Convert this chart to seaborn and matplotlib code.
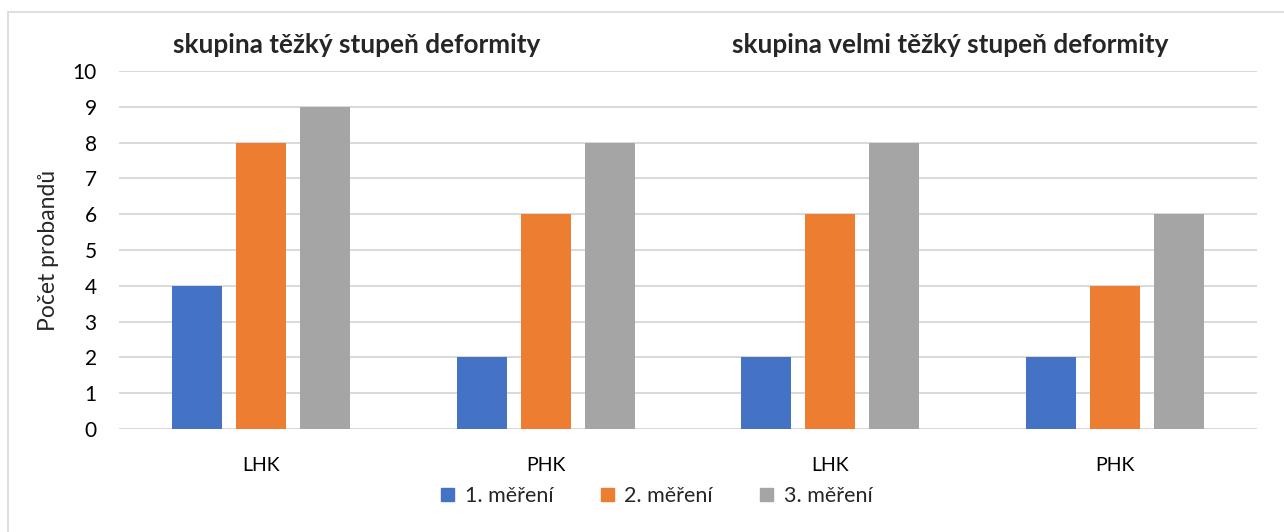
import matplotlib
matplotlib.use("Agg")
import matplotlib.pyplot as plt
import seaborn as sns
import pandas as pd
from matplotlib.patches import Rectangle

# ---- data ----
skupiny = ["skupina těžký stupeň deformity", "skupina velmi těžký stupeň deformity"]
kategorie = ["LHK", "PHK", "LHK", "PHK"]
serie = ["1. měření", "2. měření", "3. měření"]
mereni_1 = [4, 2, 2, 2]
mereni_2 = [8, 6, 6, 4]
mereni_3 = [9, 8, 8, 6]
barvy = ["#4472C4", "#ED7D31", "#A5A5A5"]
y_label = "Počet probandů"

rows = []
for s, vals in zip(serie, [mereni_1, mereni_2, mereni_3]):
    for i, v in enumerate(vals):
        rows.append({"pos": str(i), "serie": s, "hodnota": v})
df = pd.DataFrame(rows)

sns.set_theme(style="white")
plt.rcParams["font.family"] = ["Lato", "DejaVu Sans"]

fig = plt.figure(figsize=(12.84, 5.32), dpi=100)
ax = fig.add_axes([119 / 1284, 1 - 429 / 532, (1257 - 119) / 1284, (429 - 71) / 532])

sns.barplot(data=df, x="pos", y="hodnota", hue="serie", palette=barvy,
            width=0.675, gap=0.22, ax=ax, legend=False, saturation=1,
            edgecolor="none")

ax.set_ylim(0, 10)
ax.set_xlim(-0.5, 3.5)
ax.set_yticks(range(0, 11))
ax.yaxis.grid(True, color="#D9D9D9", linewidth=1.4)
ax.set_axisbelow(True)
for sp in ax.spines.values():
    sp.set_visible(False)
ax.set_xticks(range(4))
ax.set_xticklabels(kategorie)
ax.tick_params(axis="both", length=0, labelsize=14, colors="#000000")
ax.tick_params(axis="y", labelsize=15, pad=16)
ax.tick_params(axis="x", pad=20)
ax.set_xlabel("")
ax.set_ylabel(y_label, fontsize=16.5, labelpad=10)

# titles of groups
fig.text(357 / 1284, 1 - 45 / 532, skupiny[0], ha="center", va="center",
         fontsize=18.8, fontweight="bold")
fig.text(950 / 1284, 1 - 45 / 532, skupiny[1], ha="center", va="center",
         fontsize=18.8, fontweight="bold")

# legend
handles = [Rectangle((0, 0), 1, 1, color=c) for c in barvy]
fig.legend(handles, serie, loc="center", bbox_to_anchor=(657 / 1284, 1 - 496 / 532),
           ncol=3, frameon=False, fontsize=15.5, handlelength=0.6, handleheight=0.6,
           columnspacing=2.2, handletextpad=0.5)

# chart border
fig.add_artist(Rectangle((8 / 1284, -0.1), 1.2, 1 - 12 / 532 + 0.1,
                         transform=fig.transFigure, fill=False,
                         edgecolor="#D9D9D9", linewidth=1.2))

fig.savefig("out.png", dpi=100)
